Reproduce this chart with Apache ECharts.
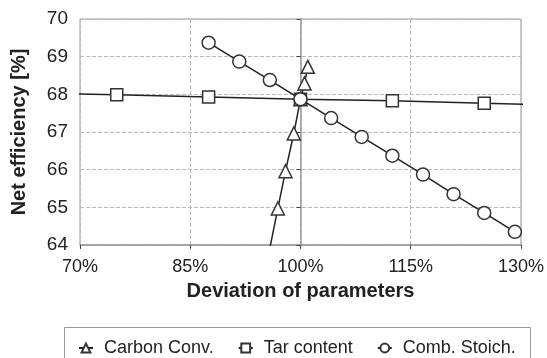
<!DOCTYPE html>
<html>
<head>
<meta charset="utf-8">
<script src="https://cdn.jsdelivr.net/npm/echarts@6/dist/echarts.min.js"></script>
<style>html,body{margin:0;padding:0;background:#fff}#c{width:547px;height:358px}</style>
</head>
<body>
<div id="c"></div>
<script>
// Deviation of parameters [%] and net efficiency [%]
var carbonX = [95.4, 96.92, 97.96, 99.09, 100, 100.54, 101.0];
var carbonY = [63.5, 64.97, 65.96, 66.96, 67.87, 68.29, 68.73];
var tarX = [62.5, 75, 87.5, 100, 112.5, 125, 137.5];
var tarY = [68.03, 67.99, 67.93, 67.87, 67.83, 67.76, 67.71];
var combX = [87.5, 91.67, 95.83, 100, 104.17, 108.33, 112.5, 116.67, 120.83, 125, 129.17];
var combY = [69.37, 68.87, 68.38, 67.87, 67.37, 66.87, 66.37, 65.87, 65.35, 64.85, 64.35];
var seriesNames = ['Carbon Conv.', 'Tar content', 'Comb. Stoich.'];
var xTickLabels = ['70%', '85%', '100%', '115%', '130%'];
var yTicks = [64, 65, 66, 67, 68, 69, 70];

function pairs(xs, ys) { return xs.map(function (x, i) { return [x - 100, ys[i]]; }); }

var chart = echarts.init(document.getElementById('c'), null, {renderer: 'canvas'});
var markerStyle = {color: '#fff', borderColor: '#333', borderWidth: 1.5};
var lineStyle = {color: '#222', width: 1.5};
function mk(name, data, symbol, size) {
  return {
    name: name, type: 'line', data: data, symbol: symbol, symbolSize: size,
    showAllSymbol: true, clip: true, itemStyle: markerStyle, lineStyle: lineStyle,
    emphasis: {disabled: true}, animation: false, z: 3
  };
}
chart.setOption({
  animation: false,
  textStyle: {fontFamily: 'Liberation Sans, Arial, sans-serif'},
  grid: {left: 80, right: 25, top: 19, bottom: 113, show: true, borderColor: '#999', borderWidth: 1},
  xAxis: {
    type: 'value', min: -30, max: 30, interval: 15,
    name: 'Deviation of parameters', nameLocation: 'middle', nameGap: 36,
    nameTextStyle: {fontSize: 20, fontWeight: 'bold', color: '#222'},
    axisLine: {lineStyle: {color: '#999', width: 1.5}},
    axisTick: {show: true, length: 4, lineStyle: {color: '#444'}},
    axisLabel: {fontSize: 18, color: '#222', margin: 13,
      formatter: function (v) { return xTickLabels[Math.round((v + 30) / 15)]; }},
    splitLine: {show: true, lineStyle: {color: '#bbb', type: [4, 2], width: 1}}
  },
  yAxis: {
    type: 'value', min: yTicks[0], max: yTicks[yTicks.length - 1], interval: 1,
    name: 'Net efficiency [%]', nameLocation: 'middle', nameGap: 51,
    nameTextStyle: {fontSize: 20, fontWeight: 'bold', color: '#222'},
    axisLine: {show: true, lineStyle: {color: '#999', width: 1.5}},
    axisTick: {show: true, length: 4, lineStyle: {color: '#444'}},
    axisLabel: {fontSize: 19, color: '#222', margin: 12},
    splitLine: {show: true, lineStyle: {color: '#bbb', type: [4, 2], width: 1}}
  },
  legend: {
    data: seriesNames, left: 73, top: 334, itemGap: 24, itemWidth: 14, itemHeight: 11,
    textStyle: {fontSize: 18, color: '#222', padding: [0, 0, 0, 6]}, selectedMode: false
  },
  graphic: [{
    type: 'rect', shape: {x: 64.5, y: 327.5, width: 466, height: 50},
    style: {fill: 'none', stroke: '#999', lineWidth: 1}, z: 0, silent: true
  }],
  series: [
    mk(seriesNames[0], pairs(carbonX, carbonY), 'triangle', 13),
    mk(seriesNames[1], pairs(tarX, tarY), 'rect', 12),
    mk(seriesNames[2], pairs(combX, combY), 'circle', 13)
  ]
});
</script>
</body>
</html>
